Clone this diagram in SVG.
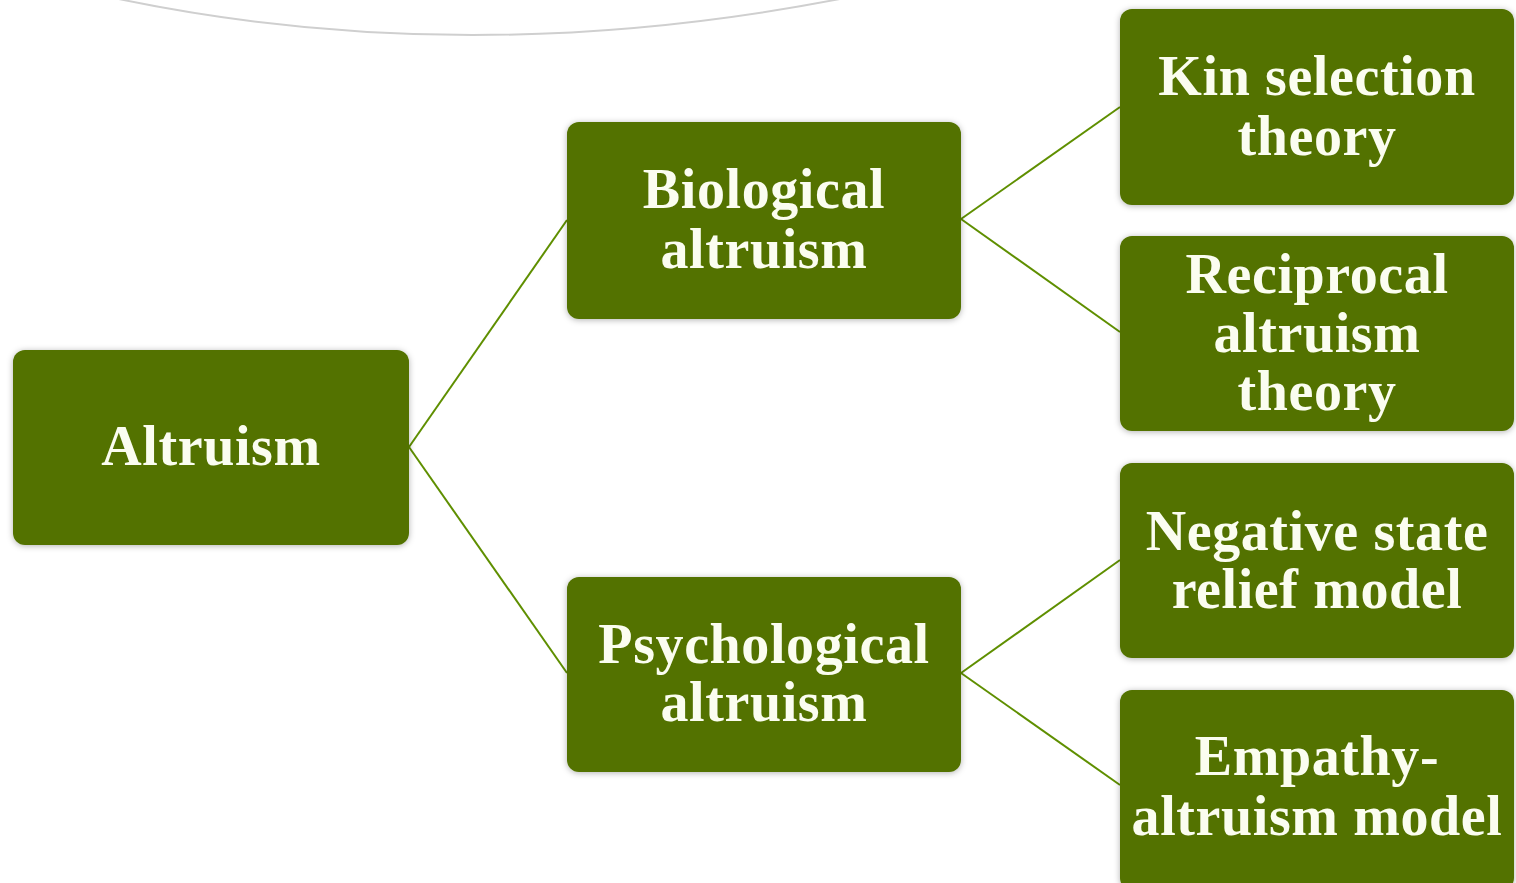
<svg xmlns="http://www.w3.org/2000/svg" width="1516" height="883" viewBox="0 0 1516 883">
<defs>
<filter id="sh" x="-10%" y="-10%" width="120%" height="120%">
<feDropShadow dx="0" dy="1" stdDeviation="3" flood-color="#000" flood-opacity="0.3"/>
</filter>
<style>
.box{fill:#527205;filter:url(#sh)}
.t{font-family:"Liberation Serif","Times New Roman",serif;font-weight:bold;font-size:56px;letter-spacing:0.6px;fill:#fbfdf0;text-anchor:middle}
.c{stroke:#5f8f00;stroke-width:2;fill:none}
</style>
</defs>
<rect width="1516" height="883" fill="#fff"/>
<path d="M100,-5 Q465,75 860,-5" fill="none" stroke="#cfcfcf" stroke-width="2"/>
<g id="connectors">
<line class="c" x1="409" y1="447" x2="567" y2="220"/>
<line class="c" x1="409" y1="447" x2="567" y2="673"/>
<line class="c" x1="961" y1="219" x2="1120" y2="107"/>
<line class="c" x1="961" y1="219" x2="1120" y2="332"/>
<line class="c" x1="961" y1="673" x2="1120" y2="560"/>
<line class="c" x1="961" y1="673" x2="1120" y2="785"/>
</g>
<g id="altruism">
<rect class="box" x="13" y="350" width="396" height="195" rx="12"/>
<text class="t" x="211" y="465">Altruism</text>
</g>
<g id="biological">
<rect class="box" x="567" y="122" width="394" height="197" rx="12"/>
<text class="t" x="764" y="208">Biological</text>
<text class="t" x="764" y="268">altruism</text>
</g>
<g id="psychological">
<rect class="box" x="567" y="577" width="394" height="195" rx="12"/>
<text class="t" x="764" y="663">Psychological</text>
<text class="t" x="764" y="721">altruism</text>
</g>
<g id="kin">
<rect class="box" x="1120" y="9" width="394" height="196" rx="12"/>
<text class="t" x="1317" y="95">Kin selection</text>
<text class="t" x="1317" y="155">theory</text>
</g>
<g id="reciprocal">
<rect class="box" x="1120" y="236" width="394" height="195" rx="12"/>
<text class="t" x="1317" y="293">Reciprocal</text>
<text class="t" x="1317" y="352">altruism</text>
<text class="t" x="1317" y="410">theory</text>
</g>
<g id="negative">
<rect class="box" x="1120" y="463" width="394" height="195" rx="12"/>
<text class="t" x="1317" y="550">Negative state</text>
<text class="t" x="1317" y="608">relief model</text>
</g>
<g id="empathy">
<rect class="box" x="1120" y="690" width="394" height="200" rx="12"/>
<text class="t" x="1317" y="775">Empathy-</text>
<text class="t" x="1317" y="835">altruism model</text>
</g>
</svg>
